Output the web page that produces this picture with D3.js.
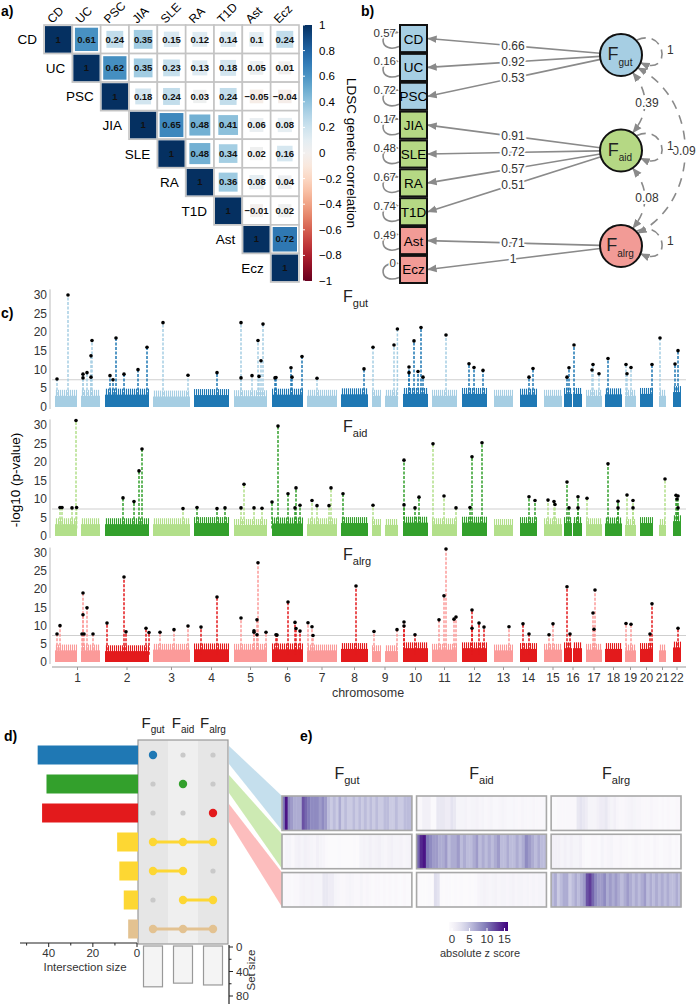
<!DOCTYPE html>
<html><head><meta charset="utf-8">
<script src="https://cdn.jsdelivr.net/npm/d3@7"></script>
<style>body{margin:0;background:#fff} svg{font-family:"Liberation Sans",Arial,Helvetica,sans-serif}</style>
</head><body><svg id="fig" width="697" height="1004"></svg>
<script>
// ================= DATA =================
const traits = ["CD","UC","PSC","JIA","SLE","RA","T1D","Ast","Ecz"];
// upper triangle of LDSC genetic correlation, row i starts at column i
const rgUpper = [
  [1,0.61,0.24,0.35,0.15,0.12,0.14,0.1,0.24],
  [1,0.62,0.35,0.23,0.13,0.18,0.05,0.01],
  [1,0.18,0.24,0.03,0.24,-0.05,-0.04],
  [1,0.65,0.48,0.41,0.06,0.08],
  [1,0.48,0.34,0.02,0.16],
  [1,0.36,0.08,0.04],
  [1,-0.01,0.02],
  [1,0.72],
  [1]
];
const corrTicks = [1,0.8,0.6,0.4,0.2,0,-0.2,-0.4,-0.6,-0.8,-1];

const factors = ["gut","aid","alrg"];
const factorOf = ["gut","gut","gut","aid","aid","aid","aid","alrg","alrg"];
const loadings = [0.66,0.92,0.53,0.91,0.72,0.57,0.51,0.71,1];
const residuals = [0.57,0.16,0.72,0.17,0.48,0.67,0.74,0.49,0];
const factorVar = [1,1,1];
const factorCov = [["gut","aid",0.39],["gut","alrg",0.09],["aid","alrg",0.08]];

const chromosomes = [1,2,3,4,5,6,7,8,9,10,11,12,13,14,15,16,17,18,19,20,21,22];
// genomic extent of SNP blocks, cumulative position units [chr, start, end]
const chrSegments = [[1,0,110],[1,130,225],[2,250,470],[3,490,675],[4,695,870],[5,895,1060],
  [6,1085,1240],[7,1260,1410],[8,1430,1565],[9,1585,1630],[9,1650,1715],[10,1740,1865],
  [11,1885,2010],[12,2035,2160],[13,2195,2290],[14,2325,2410],[15,2445,2535],[16,2545,2585],
  [16,2590,2635],[17,2655,2735],[18,2750,2835],[19,2850,2905],[20,2925,2990],[21,3020,3055],[22,3090,3130]];
const pTicks = [0,5,10,15,20,25,30];
const gwsLevel = 7.3;
// background -log10 p level per chromosome
const bgGut  = [3,3.3,2.8,3.2,2.9,3.3,3,3.4,3,3.5,3,3.5,3,3.3,3,3.5,3,3.4,3,3.5,3,4];
const bgAid  = [3.2,3.2,3.2,3.5,3,3.4,3.2,3.5,3,3.6,3.2,3.6,3,3.5,3.2,3.5,3.2,3.4,3,3.5,3,4];
const bgAlrg = [3.2,3,3.4,3.5,3.4,3.5,3.2,3.6,3,3.8,3.4,3.8,3.2,3.6,3.4,3.8,3.4,3.6,3.2,3.6,3.2,4];
// lead SNPs [cumulative position, -log10 p]
const gutPeaks = [[10,7.5],[65,30],[140,8.8],[140,7.8],[160,9.2],[180,8],[180,13.7],[185,17.8],[275,8.4],[290,7.3],
  [305,18.5],[345,8.8],[415,10],[460,16],[540,22.6],[665,8.5],[810,9.2],[930,22.6],[930,7.8],[985,8.4],[1015,17.8],
  [1020,8.2],[1030,12.4],[1040,22.2],[1100,7.8],[1105,7.9],[1180,10.5],[1185,8],[1235,13.5],[1310,7.7],[1545,10.2],
  [1590,16],[1695,16.6],[1712,20.9],[1770,10.7],[1770,9.2],[1795,17.7],[1815,9.5],[1830,21.3],[1840,8],[1955,19.3],
  [2070,11.6],[2095,10.6],[2140,9.8],[2370,8],[2390,10.3],[2560,8],[2570,10.5],[2595,16.6],[2685,9.9],[2690,11.4],
  [2720,8.9],[2765,13],[2855,11.4],[2860,8.9],[2880,10.6],[2985,11.4],[3025,18.5],[3100,11.5],[3115,15.1]];
const aidPeaks = [[25,7.7],[35,7.7],[85,7.6],[105,31.2],[108,7.7],[340,10.3],[395,9.3],[420,17.6],[435,23.5],[640,7.4],
  [710,7.7],[810,7.4],[850,7.6],[930,7.6],[945,14],[995,7.6],[1035,7.5],[1085,9.2],[1115,29.7],[1165,11.4],[1200,7.6],
  [1205,13],[1225,8.3],[1285,9.6],[1310,8.2],[1370,8.2],[1380,13],[1440,11.4],[1590,8.3],[1745,20.5],[1745,8.4],
  [1800,7.6],[1820,10.5],[1890,24.9],[1945,10.8],[2005,7.6],[2075,7.7],[2085,21.4],[2135,25.2],[2370,10.6],[2400,9.6],
  [2465,9.7],[2495,9.3],[2500,8.5],[2560,14.6],[2570,7.6],[2615,10.6],[2615,7.6],[2660,10.2],[2765,19.5],[2815,9.4],
  [2815,7.6],[2860,11.1],[2890,9.6],[2890,7.6],[3050,15.4],[3105,11],[3115,10.8],[3110,10],[3115,7.6]];
const alrgPeaks = [[10,7.7],[25,10],[140,19],[140,13],[135,7.7],[145,7.7],[160,14.9],[190,7.7],[260,10.7],[345,23.4],
  [355,8.3],[455,9.3],[470,8.1],[525,8.2],[595,8.9],[665,9.9],[730,9.6],[810,17.9],[930,12.1],[995,8.6],[995,8.2],
  [1010,11.6],[1010,7.5],[1015,27.3],[1055,8.2],[1105,7.5],[1110,7.4],[1165,16.5],[1200,10.9],[1205,9.2],[1225,8.5],
  [1265,10.8],[1285,9.7],[1290,7.3],[1505,20.9],[1595,8.4],[1710,8.9],[1745,11],[1745,9.9],[1800,7.5],[1920,11.6],
  [1945,18.2],[1955,31.1],[1995,11.8],[2005,12.4],[2085,14.3],[2085,9.3],[2120,10.7],[2145,9.6],[2270,9.7],[2340,10.5],
  [2370,7.7],[2470,7.5],[2490,10.5],[2560,20.7],[2575,7.7],[2690,13.5],[2695,9],[2700,19.8],[2855,10.6],[2880,10.4],
  [2975,7.7],[2985,16],[3115,9.3]];

// UpSet
const intersectionSizes = [45,41,43,9,8,6,4];
const intersectionMembers = [[1,0,0],[0,1,0],[0,0,1],[1,1,1],[1,1,0],[0,1,1],[1,1,1]];
const intersectionColors = ["#1f78b4","#33a02c","#e31a1c","#fdd733","#fdd733","#fdd733","#e3c291"];
const setSizes = [65,59,62];
const interTicks = [0,20,40];
const setTicks = [0,40,80];

// heatmap of absolute z scores: rows = SNP sets (gut, aid, alrg), cols = factors
const zGutSet = [
  [10,15,9,8,7,7,7,12,11,10,9,9,9,8,9,8,6,5,6,5,7,5,6,5,5,6,5,6,5,6,5,6,5,6,5,5,6,6,5,5,6,5,5,6,6,6],
  [0.5,0.5,1.5,1.5,1.5,0.3,0.3,2.5,2.5,2.5,2,2,3,2.5,1,1,1,1.2,0.8,1,1,1.2,0.8,1,0.6,0.8,1,0.6,0.6,0.8,1,0.8,0.6,0.6,0.8,0.6,0.5,0.8,0.6,0.5,0.6,0.8,0.6,0.5,0.5,0.6],
  [0.3,0.3,0.5,0.5,0.5,0.5,0.5,0.5,0.5,2.5,3,2.5,2,1,1,1,1.5,2,2,2.5,1.5,1,1.5,0.8,0.5,0.5,0.8,1,1.2,1,0.8,0.8,0.5,0.5,0.5,0.8,0.5,0.5,0.3,0.5,0.3,0.5,0.3,0.3,0.5,0.5]];
const zAidSet = [
  [0.5,1,1,0.5,1.2,1.5,1,1.5,1.2,1,0.8,1.5,1,0.8,0.3,0.2,0.2,0.2,0.3,0.2,0.2,0.2,0.2,0.3,0.2,1,1.2,1,1.5,1,1.2,1.5,1,0.8,1.2,1.5,1,1,1.2,0.8,1,1.2],
  [11,14,15,10,9,8,8,7,7,8,6,7,7,8,6,7,6,6,7,8,6,7,6,7,6,7,8,6,6,7,6,6,7,6,7,9,8,7,6,7,6,6],
  [1.5,1.5,1.5,1,1.5,1,1.5,1,1,1.5,0.5,0.3,0.3,0.5,0.5,0.3,1,0.5,0.8,1,0.5,0.5,0.8,0.5,0.5,0.3,0.5,0.8,0.5,0.3,0.5,0.5,0.3,0.8,0.5,0.3,0.5,0.5,0.8,0.3,0.5,0.3]];
const zAlrgSet = [
  [0.5,0.5,0.5,0.3,0.5,0.5,1,1.2,1,1,1.2,1,1,1,2.5,2.5,2,2,1,0.8,0.5,0.5,0.8,1,0.8,0.5,0.5,1,0.5,0.8,0.5,0.3,0.5,0.5,0.3,0.5,0.3,0.5,0.3,0.5,0.3,0.3,0.5,0.3,0.3],
  [0.3,0.2,0.2,0.2,0.3,0.2,3.5,3,0.3,0.2,0.3,0.3,0.2,0.3,0.2,0.3,0.2,0.2,0.3,0.2,0.3,0.8,1,1.2,1,0.8,1,1.2,0.8,1,1,0.8,1,1.2,0.8,1,1,0.8,1,0.8,1,0.8,1,1,0.8],
  [6,7,5,6,7,7,5,6,7,6,7,8,12,13,11,9,8,8,9,7,8,7,8,7,6,7,8,7,6,7,6,7,8,6,7,6,7,6,7,6,7,6,6,7,6]];
const zTicks = [0,5,10,15];

// ================= DRAW =================
const svg = d3.select("#fig");
const GRAY = "#8a8a8a";
const defs = svg.append("defs");
defs.append("marker").attr("id","arr").attr("viewBox","0 0 10 10").attr("refX",9).attr("refY",5)
  .attr("markerWidth",6).attr("markerHeight",6).attr("orient","auto-start-reverse")
  .append("path").attr("d","M0,1 L10,5 L0,9 z").attr("fill",GRAY);

function fLabel(g, x, y, sub, size, subSize, anchor){
  const t = g.append("text").attr("x",x).attr("y",y).attr("text-anchor",anchor||"start")
    .style("font-size",size+"px").attr("fill","#222");
  t.append("tspan").text("F");
  t.append("tspan").attr("dy",size*0.32).style("font-size",subSize+"px").text(sub);
  return t;
}
function panelLabel(x,y,t){ svg.append("text").attr("x",x).attr("y",y).text(t)
  .style("font-size","14px").style("font-weight","bold"); }

// ---------- a) correlation heatmap
panelLabel(1,16,"a)");
const ga = svg.append("g");
const xa = d3.scaleBand().domain(traits).range([44,299]);
const ya = d3.scaleBand().domain(traits).range([25,282]);
const rdbu = v => d3.interpolateRdBu((v+1)/2);
const cells = [];
rgUpper.forEach((row,i)=>row.forEach((v,k)=>cells.push({i, j:i+k, v})));
const cw = xa.bandwidth(), ch = ya.bandwidth();
const cg = ga.selectAll("g.cell").data(cells).join("g")
  .attr("transform",d=>`translate(${xa(traits[d.j])},${ya(traits[d.i])})`);
cg.append("rect").attr("width",cw).attr("height",ch).attr("fill","#fff").attr("stroke","#c4c4c4").attr("stroke-width",1.6);
cg.append("rect").each(function(d){
  const s = d.i===d.j ? cw-2 : Math.min(cw-4, cw*(0.45+0.6*Math.abs(d.v)));
  d3.select(this).attr("x",(cw-s)/2).attr("y",(ch-s)/2).attr("width",s).attr("height",s*ch/cw).attr("fill",rdbu(d.v));
});
cg.append("text").attr("x",cw/2).attr("y",ch/2+3.3).attr("text-anchor","middle")
  .style("font-size","9.5px").style("font-weight","bold").attr("fill","#111")
  .text(d=> d.v===1 ? "1" : d3.format(".2~f")(d.v));
// labels
ga.selectAll("text.rowl").data(traits).join("text").attr("class","rowl")
  .attr("x",(d)=>xa(d)-7).attr("y",d=>ya(d)+ch/2+5).attr("text-anchor","end").style("font-size","13.5px").text(d=>d);
ga.selectAll("text.coll").data(traits).join("text").attr("class","coll")
  .attr("transform",d=>`translate(${xa(d)+cw/2-6},${24}) rotate(-45)`).style("font-size","12px").text(d=>d);
// colorbar
const cbScale = d3.scaleLinear().domain([1,-1]).range([25,281]);
const lg = defs.append("linearGradient").attr("id","rdbuG").attr("x1",0).attr("x2",0).attr("y1",0).attr("y2",1);
d3.range(0,1.0001,0.05).forEach(t=>lg.append("stop").attr("offset",t).attr("stop-color",rdbu(1-2*t)));
ga.append("rect").attr("x",303).attr("y",25).attr("width",9).attr("height",256).attr("fill","url(#rdbuG)");
ga.selectAll("text.cbt").data(corrTicks).join("text").attr("x",319).attr("y",d=>cbScale(d)+4)
  .style("font-size","11.5px").text(d=>d3.format("~g")(d));
ga.selectAll("line.cbt").data(corrTicks).join("line").attr("x1",303).attr("x2",305).attr("y1",d=>cbScale(d)).attr("y2",d=>cbScale(d)).attr("stroke","#fff");
ga.append("text").attr("transform","translate(347,153) rotate(90)").attr("text-anchor","middle")
  .style("font-size","13.5px").text("LDSC genetic correlation");

// ---------- b) path diagram
panelLabel(361,16,"b)");
const gb = svg.append("g");
const yb = d3.scaleBand().domain(traits).range([25,283]).paddingInner(0.06);
const fillOf = {gut:"#a6cee3", aid:"#b5d884", alrg:"#f29b96"};
const fy = d3.scalePoint().domain(factors).range([55,246]);
const fx = 621, fr = 21;
const bx0 = 400, bw = 27;
// loadings
traits.forEach((t,i)=>{
  const cy = yb(t)+yb.bandwidth()/2, f = factorOf[i];
  const dx = bx0+bw - fx, dy = cy - fy(f), L = Math.hypot(dx,dy);
  const sx = fx + dx/L*fr, sy = fy(f) + dy/L*fr;
  gb.append("line").attr("x1",sx).attr("y1",sy).attr("x2",bx0+bw+1).attr("y2",cy)
    .attr("stroke",GRAY).attr("stroke-width",1.6).attr("marker-end","url(#arr)");
  const lx = 513, ly = sy + (cy-sy)*(sx-lx)/(sx-bx0-bw);
  gb.append("text").attr("x",lx).attr("y",ly+4).attr("text-anchor","middle").style("font-size","12px")
    .attr("stroke","#fff").attr("stroke-width",4).attr("paint-order","stroke").attr("fill","#333").text(d3.format("~g")(loadings[i]));
  // residual self loop
  gb.append("path").attr("d",`M${bx0-1},${cy+8} C${bx0-20},${cy+16} ${bx0-24},${cy-9} ${bx0-2},${cy-6}`)
    .attr("fill","none").attr("stroke",GRAY).attr("stroke-width",1.6).attr("marker-end","url(#arr)");
  gb.append("text").attr("x",bx0-4).attr("y",cy-2).attr("text-anchor","end").style("font-size","11.5px")
    .attr("stroke","#fff").attr("stroke-width",3).attr("paint-order","stroke").attr("fill","#333").text(d3.format("~g")(residuals[i]));
});
gb.selectAll("rect.box").data(traits).join("rect").attr("x",bx0).attr("y",d=>yb(d)).attr("width",bw)
  .attr("height",yb.bandwidth()).attr("fill",(d,i)=>fillOf[factorOf[i]]).attr("stroke","#111").attr("stroke-width",2);
gb.selectAll("text.box").data(traits).join("text").attr("x",bx0+bw/2).attr("y",d=>yb(d)+yb.bandwidth()/2+5)
  .attr("text-anchor","middle").style("font-size","13.5px").text(d=>d);
// covariances
const covPaths = {
  "gut-aid":  `M${fx+12},${fy("gut")+18} Q${fx+36},${(fy("gut")+fy("aid"))/2} ${fx+12},${fy("aid")-18}`,
  "gut-alrg": `M${fx+17},${fy("gut")+13} C${fx+80},${fy("gut")+45} ${fx+80},${fy("alrg")-45} ${fx+17},${fy("alrg")-13}`,
  "aid-alrg": `M${fx+12},${fy("aid")+18} Q${fx+36},${(fy("aid")+fy("alrg"))/2} ${fx+12},${fy("alrg")-18}`
};
const covLabelPos = {"gut-aid":[fx+26,(fy("gut")+fy("aid"))/2], "gut-alrg":[fx+63,(fy("gut")+fy("alrg"))/2], "aid-alrg":[fx+26,(fy("aid")+fy("alrg"))/2]};
factorCov.forEach(([a,b,v])=>{
  const k = a+"-"+b;
  gb.append("path").attr("d",covPaths[k]).attr("fill","none").attr("stroke",GRAY).attr("stroke-width",1.6)
    .attr("stroke-dasharray","9,7").attr("marker-start","url(#arr)").attr("marker-end","url(#arr)");
  gb.append("text").attr("x",covLabelPos[k][0]).attr("y",covLabelPos[k][1]+4).attr("text-anchor","middle")
    .style("font-size","12px").attr("stroke","#fff").attr("stroke-width",4).attr("paint-order","stroke").attr("fill","#333").text(v);
});
factors.forEach((f,i)=>{
  const cy = fy(f);
  gb.append("path").attr("d",`M${fx+16},${cy-15} C${fx+45},${cy-28} ${fx+52},${cy+22} ${fx+20},${cy+8}`)
    .attr("fill","none").attr("stroke",GRAY).attr("stroke-width",1.6).attr("stroke-dasharray","9,6").attr("marker-end","url(#arr)");
  gb.append("text").attr("x",fx+46).attr("y",cy-1).style("font-size","12px")
    .attr("stroke","#fff").attr("stroke-width",4).attr("paint-order","stroke").attr("fill","#333").text(factorVar[i]);
  gb.append("circle").attr("cx",fx).attr("cy",cy).attr("r",fr).attr("fill",fillOf[f]).attr("stroke","#111").attr("stroke-width",2);
  fLabel(gb, fx-1, cy+5, f, 18, 10, "middle");
});

// ---------- c) Manhattan plots
panelLabel(1,318,"c)");
const gc = svg.append("g");
const xc = d3.scaleLinear().domain([0,3130]).range([55,681]);
const panels = [
  {name:"gut", peaks:gutPeaks, bg:bgGut, cols:["#a6cee3","#1f78b4"], y0:407, y30:295},
  {name:"aid", peaks:aidPeaks, bg:bgAid, cols:["#b2df8a","#33a02c"], y0:536, y30:425},
  {name:"alrg", peaks:alrgPeaks, bg:bgAlrg, cols:["#fb9a99","#e31a1c"], y0:662, y30:553}
];
const chrExtent = chromosomes.map(c=>{ const s = chrSegments.filter(d=>d[0]===c); return [d3.min(s,d=>d[1]), d3.max(s,d=>d[2])]; });
const chrOf = pos => { let best=1, bd=1e9; chromosomes.forEach((c,i)=>{ const [a,b]=chrExtent[i];
  const d = pos<a ? a-pos : pos>b ? pos-b : 0; if(d<bd){bd=d;best=c;} }); return best; };
// stripe patterns to give the dense-SNP texture on top of each block
panels.forEach(p=>p.cols.forEach((c,k)=>{
  const pat = defs.append("pattern").attr("id",`pat-${p.name}-${k}`).attr("width",2).attr("height",6).attr("patternUnits","userSpaceOnUse");
  pat.append("rect").attr("width",1.1).attr("height",6).attr("fill",c);
}));
panels.forEach(p=>{
  const y = d3.scaleLinear().domain([0,30]).range([p.y0,p.y30]);
  const g = gc.append("g");
  const parity = c => (c % 2 === 1) ? 0 : 1;
  const colOf = c => p.cols[parity(c)];
  // threshold
  g.append("line").attr("x1",52).attr("x2",686).attr("y1",y(gwsLevel)).attr("y2",y(gwsLevel)).attr("stroke","#cfcfcf").attr("stroke-width",1.2);
  // background blocks
  g.selectAll("rect.bg2").data(chrSegments).join("rect").attr("x",d=>xc(d[1])).attr("width",d=>xc(d[2])-xc(d[1]))
    .attr("y",d=>y(p.bg[d[0]-1]+1.6)).attr("height",d=>y(0)-y(p.bg[d[0]-1]+1.6)).attr("fill",d=>`url(#pat-${p.name}-${parity(d[0])})`);
  g.selectAll("rect.bg").data(chrSegments).join("rect").attr("x",d=>xc(d[1])).attr("width",d=>xc(d[2])-xc(d[1]))
    .attr("y",d=>y(p.bg[d[0]-1])).attr("height",d=>y(0)-y(p.bg[d[0]-1])).attr("fill",d=>colOf(d[0]));
  // peak columns
  g.selectAll("line.pk").data(p.peaks).join("line").attr("x1",d=>xc(d[0])).attr("x2",d=>xc(d[0]))
    .attr("y1",y(2)).attr("y2",d=>y(d[1])).attr("stroke",d=>colOf(chrOf(d[0]))).attr("stroke-width",1.5)
    .attr("stroke-dasharray","3,1.5");
  g.selectAll("circle.pk").data(p.peaks).join("circle").attr("cx",d=>xc(d[0])).attr("cy",d=>y(d[1])).attr("r",1.8).attr("fill","#000");
  // y axis
  g.append("line").attr("x1",50).attr("x2",50).attr("y1",y(0)+2).attr("y2",y(31.5)).attr("stroke","#bbb");
  g.selectAll("text.yt").data(pTicks).join("text").attr("x",47).attr("y",d=>y(d)+4).attr("text-anchor","end")
    .style("font-size","12px").attr("fill","#333").text(d=>d);
  fLabel(g, 343, p.y30+7, p.name, 16, 11, "start");
});
gc.append("line").attr("x1",52).attr("x2",686).attr("y1",667).attr("y2",667).attr("stroke","#999");
gc.selectAll("line.xt").data(chromosomes).join("line").attr("x1",(d,i)=>xc((chrExtent[i][0]+chrExtent[i][1])/2))
  .attr("x2",(d,i)=>xc((chrExtent[i][0]+chrExtent[i][1])/2)).attr("y1",667).attr("y2",670).attr("stroke","#999");
gc.selectAll("text.xt").data(chromosomes).join("text").attr("x",(d,i)=>xc((chrExtent[i][0]+chrExtent[i][1])/2))
  .attr("y",682).attr("text-anchor","middle").style("font-size","12px").attr("fill","#333").text(d=>d);
gc.append("text").attr("x",368).attr("y",697).attr("text-anchor","middle").style("font-size","12.5px").attr("fill","#333").text("chromosome");
gc.append("text").attr("transform","translate(20,480) rotate(-90)").attr("text-anchor","middle").style("font-size","13.5px").text("-log10 (p-value)");

// ---------- d) UpSet
panelLabel(4,741,"d)");
const gd = svg.append("g");
const mx = d3.scaleBand().domain(factors).range([138,228]);
const my = d3.scalePoint().domain(d3.range(intersectionSizes.length)).range([755,929]);
const xi = d3.scaleLinear().domain([0,53]).range([137,20]);
// matrix background
gd.append("rect").attr("x",138).attr("y",740).attr("width",90).attr("height",204).attr("fill","#e6e6e6");
gd.append("rect").attr("x",mx("aid")).attr("y",740.6).attr("width",mx.bandwidth()).attr("height",202.8).attr("fill","#efefef");
gd.append("rect").attr("x",138).attr("y",740).attr("width",90).attr("height",204).attr("fill","none").attr("stroke","#999").attr("stroke-width",1.2);
// ribbons
const heatX0 = 282;
const ye = d3.scaleBand().domain(factors).range([796,907]).paddingInner(0.1);
const ribbonCols = ["#a6cee3","#b2df8a","#fb9a99"];
factors.forEach((f,i)=>{
  const r0 = my(i);
  gd.append("path").attr("d",`M229,${r0-9} L${heatX0},${ye(f)} L${heatX0},${ye(f)+ye.bandwidth()} L229,${r0+9} Z`)
    .attr("fill",ribbonCols[i]).attr("opacity",0.65);
});
// bars
gd.selectAll("rect.ib").data(intersectionSizes).join("rect").attr("x",d=>xi(d)).attr("width",d=>xi(0)-xi(d)+1)
  .attr("y",(d,i)=>my(i)-9.5).attr("height",19).attr("fill",(d,i)=>intersectionColors[i]);
// dots
intersectionMembers.forEach((m,i)=>{
  const on = factors.filter((f,k)=>m[k]);
  if(on.length>1){
    gd.append("line").attr("x1",mx(on[0])+mx.bandwidth()/2).attr("x2",mx(on[on.length-1])+mx.bandwidth()/2)
      .attr("y1",my(i)).attr("y2",my(i)).attr("stroke",intersectionColors[i]).attr("stroke-width",3);
  }
  factors.forEach((f,k)=>{
    gd.append("circle").attr("cx",mx(f)+mx.bandwidth()/2).attr("cy",my(i)).attr("r",m[k]?4.2:2.6)
      .attr("fill",m[k]?intersectionColors[i]:"#c9c9c9");
  });
});
factors.forEach(f=>fLabel(gd, mx(f)+mx.bandwidth()/2, 728, f, 15, 10, "middle"));
// intersection axis
gd.append("line").attr("x1",20).attr("x2",137).attr("y1",943).attr("y2",943).attr("stroke","#222").attr("stroke-width",1.2);
gd.selectAll("line.it").data(d3.range(0,51,10)).join("line").attr("x1",d=>xi(d)).attr("x2",d=>xi(d)).attr("y1",943).attr("y2",d=>d%20===0?947:945.5).attr("stroke","#222");
gd.selectAll("text.it").data(interTicks).join("text").attr("x",d=>xi(d)).attr("y",957).attr("text-anchor","middle")
  .style("font-size","11.5px").attr("fill","#333").text(d=>d);
gd.append("text").attr("x",85).attr("y",971).attr("text-anchor","middle").style("font-size","11.5px").attr("fill","#333").text("Intersection size");
// set size
const ys = d3.scaleLinear().domain([0,80]).range([947,996]);
gd.selectAll("rect.ss").data(setSizes).join("rect").attr("x",(d,i)=>mx(factors[i])+mx.bandwidth()/2-9.5).attr("width",19)
  .attr("y",946).attr("height",d=>ys(d)-946).attr("fill","#f4f4f4").attr("stroke","#999").attr("stroke-width",1.2);
gd.append("line").attr("x1",229).attr("x2",229).attr("y1",945).attr("y2",1004).attr("stroke","#222").attr("stroke-width",1.2);
gd.selectAll("line.st").data(d3.range(0,81,20)).join("line").attr("x1",229).attr("x2",d=>d%40===0?233:231.5).attr("y1",d=>ys(d)).attr("y2",d=>ys(d)).attr("stroke","#222");
gd.selectAll("text.st").data(setTicks).join("text").attr("x",236).attr("y",d=>ys(d)+4).style("font-size","11.5px").attr("fill","#333").text(d=>d);
gd.append("text").attr("transform","translate(255,970) rotate(-90)").attr("text-anchor","middle").style("font-size","11.5px").attr("fill","#333").text("Set size");

// ---------- e) z-score heatmaps
panelLabel(300,741,"e)");
const ge = svg.append("g");
const xe = d3.scaleBand().domain(factors).range([282,681]).paddingInner(0.035);
const purp = d3.scaleSequential(d3.interpolatePurples).domain([0,16]);
const zSets = {gut:zGutSet, aid:zAidSet, alrg:zAlrgSet};
factors.forEach(rowSet=>{
  factors.forEach((colF,ci)=>{
    const vals = zSets[rowSet][ci];
    const sx = d3.scaleBand().domain(d3.range(vals.length)).range([xe(colF), xe(colF)+xe.bandwidth()]);
    ge.selectAll(null).data(vals).join("rect").attr("x",(d,k)=>sx(k)).attr("width",sx.bandwidth()+0.4)
      .attr("y",ye(rowSet)).attr("height",ye.bandwidth()).attr("fill",d=>purp(d));
    ge.append("rect").attr("x",xe(colF)).attr("y",ye(rowSet)).attr("width",xe.bandwidth()).attr("height",ye.bandwidth())
      .attr("fill","none").attr("stroke","#a8a8a8").attr("stroke-width",1.6);
  });
});
factors.forEach(f=>fLabel(ge, xe(f)+xe.bandwidth()/2, 779, f, 16, 11, "middle"));
// colorbar
const zx = d3.scaleLinear().domain([0,16]).range([452,508]);
const pg = defs.append("linearGradient").attr("id","purG");
d3.range(0,1.0001,0.1).forEach(t=>pg.append("stop").attr("offset",t).attr("stop-color",purp(t*16)));
ge.append("rect").attr("x",zx(0)-3).attr("y",922).attr("width",zx(16)-zx(0)+3).attr("height",9).attr("fill","url(#purG)");
ge.selectAll("line.zt").data(zTicks).join("line").attr("x1",d=>zx(d)).attr("x2",d=>zx(d)).attr("y1",928).attr("y2",931).attr("stroke","#fff");
ge.selectAll("text.zt").data(zTicks).join("text").attr("x",d=>zx(d)).attr("y",943).attr("text-anchor","middle")
  .style("font-size","11.5px").attr("fill","#333").text(d=>d);
ge.append("text").attr("x",480).attr("y",957).attr("text-anchor","middle").style("font-size","11px").attr("fill","#333").text("absolute z score");
</script></body></html>
